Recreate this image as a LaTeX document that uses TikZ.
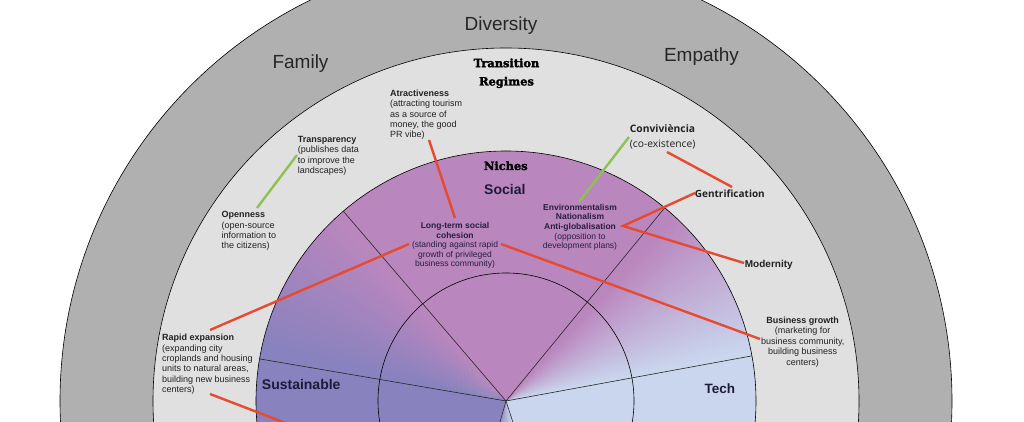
\documentclass[tikz,border=0pt]{standalone}
\usepackage{fontspec}
\setmainfont{Liberation Sans}
\newfontfamily\heavyserif[FakeBold=2]{DejaVu Serif Bold}
\newfontfamily\osans{Open Sans}
\definecolor{socC}{RGB}{186,134,190}
\definecolor{susC}{RGB}{136,130,190}
\definecolor{techC}{RGB}{201,214,237}
\definecolor{ringL}{RGB}{224,224,224}
\definecolor{ringD}{RGB}{176,176,176}
\definecolor{redC}{RGB}{232,74,48}
\definecolor{greenC}{RGB}{141,193,83}
\definecolor{txtG}{RGB}{34,34,34}
\definecolor{txtN}{RGB}{40,30,62}
\definecolor{navyT}{RGB}{30,27,58}
\begin{document}
\begin{tikzpicture}[x=1pt,y=1pt,
  ringline/.style={draw=black,line width=0.6pt},
  secline/.style={draw=black!85,line width=0.6pt},
  biglbl/.style={font=\fontsize{19}{22}\selectfont,text=black!85,anchor=base,inner sep=0},
  regime/.style={font=\heavyserif\fontsize{11.4}{18.3}\selectfont,align=center,anchor=north,inner sep=0,text=black},
  sectorlbl/.style={font=\bfseries\fontsize{14}{16}\selectfont,text=navyT,anchor=base,inner sep=0},
  gtxt/.style={font=\fontsize{9}{10.4}\selectfont,align=left,anchor=north west,inner sep=0,text=txtG},
  gctxt/.style={font=\fontsize{9}{10.5}\selectfont,align=center,anchor=north,inner sep=0,text=txtG},
  ntxt/.style={font=\fontsize{8.5}{9.6}\selectfont,align=center,anchor=north,inner sep=0,text=txtN},
  redl/.style={draw=redC,line width=2.4pt},
  greenl/.style={draw=greenC,line width=2.4pt}]
\useasboundingbox (0,0) rectangle (1024,422);
\clip (0,0) rectangle (1024,422);
\fill[white] (0,0) rectangle (1024,422);
\coordinate (C) at (506,21);
% rings
\fill[ringD] (C) circle[radius=446];
\draw[ringline] (C) circle[radius=446];
\fill[ringL] (C) circle[radius=353];
\draw[ringline] (C) circle[radius=353];
% niche sectors
\fill[socC] (C) -- ++(47:250) arc[start angle=47,end angle=133,radius=250] -- cycle;
\foreach \a in {132,...,167}{
  \pgfmathsetmacro\p{100*(\a-132)/35}
  \pgfmathsetmacro\b{\a+1.3}
  \fill[susC!\p!socC] (C) -- ++(\a:250) arc[start angle=\a,end angle=\b,radius=250] -- cycle;}
\fill[susC] (C) -- ++(167:250) arc[start angle=167,end angle=252,radius=250] -- cycle;
\foreach \a in {251,...,289}{
  \pgfmathsetmacro\p{100*(\a-251)/38}
  \pgfmathsetmacro\b{\a+1.3}
  \fill[techC!\p!susC] (C) -- ++(\a:250) arc[start angle=\a,end angle=\b,radius=250] -- cycle;}
\fill[techC] (C) -- ++(-71:250) arc[start angle=-71,end angle=12,radius=250] -- cycle;
\foreach \a in {11,...,47}{
  \pgfmathsetmacro\p{100*(\a-11)/36}
  \pgfmathsetmacro\b{\a+1.3}
  \fill[socC!\p!techC] (C) -- ++(\a:250) arc[start angle=\a,end angle=\b,radius=250] -- cycle;}
\draw[ringline] (C) circle[radius=250];
\draw[ringline] (C) circle[radius=128];
\foreach \ang in {130.6,50.6,170.3,10.4,254,288}{
  \draw[secline] (C) -- ++(\ang:250);}
% connector end points
\coordinate (trA) at (297,267);
\coordinate (opA) at (257,214);
\coordinate (cvA) at (629,285);
\coordinate (enA) at (579,220);
\coordinate (atA) at (429,282);
\coordinate (ltA) at (455,204);
\coordinate (coB) at (667,270);
\coordinate (geA) at (732,235);
\coordinate (geB) at (695,229);
\coordinate (agV) at (623,196);
\coordinate (moA) at (744,159);
\coordinate (ltL) at (409,178);
\coordinate (raA) at (210,92);
\coordinate (ltR) at (501,178);
\coordinate (bgA) at (760,83);
\coordinate (raB) at (210,28);
\coordinate (offB) at (300,-6.5);
% connectors
\draw[greenl] (trA) -- (opA);
\draw[greenl] (cvA) -- (enA);
\draw[redl] (atA) -- (ltA);
\draw[redl] (coB) -- (geA);
\draw[redl] (geB) -- (agV) -- (moA);
\draw[redl] (ltL) -- (raA);
\draw[redl] (ltR) -- (bgA);
\draw[redl] (raB) -- (offB);
% big labels
\node[biglbl] (div) at (501,391.3) {Diversity};
\node[biglbl] (fam) at (300.5,353) {Family};
\node[biglbl] (emp) at (701.5,360.3) {Empathy};
\node[regime] (trg) at (506.5,363.7) {Transition\\Regimes};
\node[regime,anchor=base] (nic) at (505.8,252) {Niches};
\node[sectorlbl] (soc) at (504.8,227) {Social};
\node[sectorlbl] (sus) at (301.2,32.7) {Sustainable};
\node[sectorlbl,font=\bfseries\fontsize{13.5}{16}\selectfont] (tec) at (719.8,28.7) {Tech};
% texts in transition ring
\node[gtxt] (atr) at (390,332.5) {\textbf{Atractiveness}\\(attracting tourism\\as a source of\\money, the good\\PR vibe)};
\node[gtxt] (tra) at (297.7,286.1) {\textbf{Transparency}\\(publishes data\\to improve the\\landscapes)};
\node[gtxt] (ope) at (221.5,210.7) {\textbf{Openness}\\(open-source\\information to\\the citizens)};
\node[gtxt] (rap) at (162,88.1) {\textbf{Rapid expansion}\\(expanding city\\croplands and housing\\units to natural areas,\\building new business\\centers)};
\node[gctxt] (bus) at (802.7,105.7) {\textbf{Business growth}\\(marketing for\\business community,\\building business\\centers)};
\node[gtxt,font=\osans\fontsize{10.3}{14.8}\selectfont] (con) at (629.7,297.7) {\textbf{Conviviència}\\(co-existence)};
\node[gtxt,font=\osans\bfseries\fontsize{10}{12}\selectfont] (gen) at (694.7,232.7) {Gentrification};
\node[gtxt,font=\bfseries\fontsize{10}{12}\selectfont] (mod) at (744.7,162.3) {Modernity};
% texts in niches
\node[ntxt] (lts) at (455,199.8) {\textbf{Long-term social}\\\textbf{cohesion}\\(standing against rapid\\growth of privileged\\business community)};
\node[ntxt] (env) at (580,218.1) {\textbf{Environmentalism}\\\textbf{Nationalism}\\\textbf{Anti-globalisation}\\(opposition to\\development plans)};
\end{tikzpicture}
\end{document}
